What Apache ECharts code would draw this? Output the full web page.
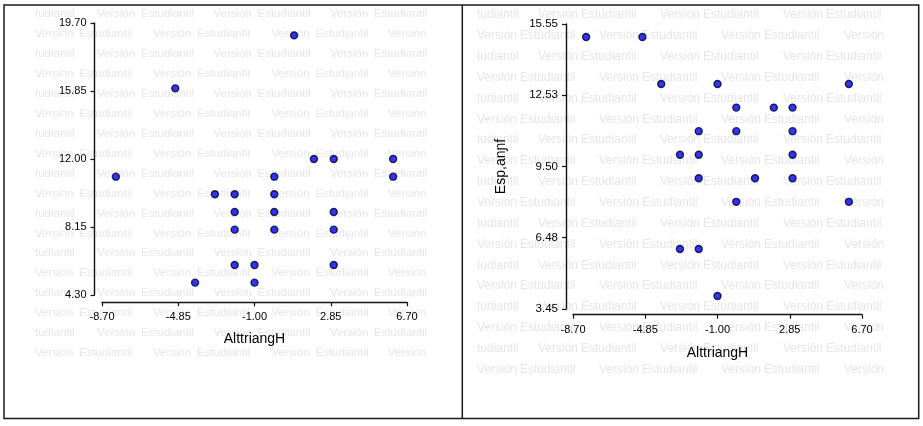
<!DOCTYPE html>
<html><head><meta charset="utf-8">
<script src="https://cdn.jsdelivr.net/npm/echarts@6/dist/echarts.min.js"></script>
<style>html,body{margin:0;padding:0;background:#fff}#c{width:923px;height:426px}</style>
</head><body><div id="c"></div>
<script>
// ---- data ----
const xTicks = [-8.70, -4.85, -1.00, 2.85, 6.70];
const leftYTicks = [4.30, 8.15, 12.00, 15.85, 19.70];
const rightYTicks = [3.45, 6.48, 9.50, 12.53, 15.55];
const leftX = [1, -5, 2, 3, 6, -8, 0, 6, -3, -2, 0, -2, 0, 3, -2, 0, 3, -2, -1, 3, -4, -1];
const leftY = [19, 16, 12, 12, 12, 11, 11, 11, 10, 10, 10, 9, 9, 9, 8, 8, 8, 6, 6, 6, 5, 5];
const rightX = [-8, -5, -4, -1, 6, 0, 2, 3, -2, 0, 3, -3, -2, 3, -2, 1, 3, 0, 6, -3, -2, -1];
const rightY = [15, 15, 13, 13, 13, 12, 12, 12, 11, 11, 11, 10, 10, 10, 9, 9, 9, 8, 8, 6, 6, 4];
const xName = 'AlttriangH';
const rightYName = 'Esp,anɲf';
const wmWords = ['Versión', 'Estudiantil', 'tudiantil'];

// ---- styling ----
const FONT = 'Arial, "Liberation Sans", sans-serif';
const axisColor = '#111';
const fmt = v => Number(v).toFixed(2);

function xAxisOpt(gridIndex, offset, margin, nameGap) {
  return {
    type: 'value', gridIndex, min: xTicks[0], max: xTicks[xTicks.length - 1],
    offset, splitLine: { show: false },
    axisLine: { show: true, onZero: false, lineStyle: { color: axisColor, width: 1.4 } },
    axisTick: { show: true, length: 4, customValues: xTicks, lineStyle: { color: axisColor, width: 1.2 } },
    axisLabel: { customValues: xTicks, formatter: fmt, margin, color: '#000', fontFamily: FONT, fontSize: 11 },
    name: xName, nameLocation: 'middle', nameGap,
    nameTextStyle: { color: '#000', fontFamily: FONT, fontSize: 14 }
  };
}
function yAxisOpt(gridIndex, ticks, offset, name, fs) {
  const o = {
    type: 'value', gridIndex, min: ticks[0], max: ticks[ticks.length - 1],
    offset, splitLine: { show: false },
    axisLine: { show: true, onZero: false, lineStyle: { color: axisColor, width: 1.4 } },
    axisTick: { show: true, length: 4, customValues: ticks, lineStyle: { color: axisColor, width: 1.2 } },
    axisLabel: { customValues: ticks, formatter: fmt, margin: 8, color: '#000', fontFamily: FONT, fontSize: fs }
  };
  if (name) {
    o.name = name; o.nameLocation = 'middle'; o.nameGap = 58; o.nameRotate = 90;
    o.nameTextStyle = { color: '#000', fontFamily: FONT, fontSize: 14 };
  }
  return o;
}

// watermark (decoration)
function watermark(y0, dy, rows, xsA, tailA, xsB, tailB, gap, fs) {
  const els = [];
  const st = (t, x, y) => ({ type: 'text', x, y, z: -10, silent: true,
    style: { text: t, fill: '#e6e6e6', font: fs + 'px ' + FONT, textVerticalAlign: 'middle' } });
  for (let r = 0; r < rows; r++) {
    const y = y0 + r * dy;
    if (r % 2 === 0) {
      els.push(st(wmWords[2], tailA, y));
      xsA.forEach(x => { els.push(st(wmWords[0], x, y)); els.push(st(wmWords[1], x + gap, y)); });
    } else {
      xsB.forEach(x => { els.push(st(wmWords[0], x, y)); els.push(st(wmWords[1], x + gap, y)); });
      els.push(st(wmWords[0], tailB, y));
    }
  }
  return els;
}
const graphics = [].concat(
  watermark(14, 19.94, 18, [97, 213.5, 330], 35, [35, 153, 271.5], 388, 44, 11.5),
  watermark(15, 20.86, 18, [538, 660, 783], 477, [477, 599, 721], 844, 43, 12),
  [
    { type: 'rect', z: 100, silent: true, shape: { x: 4, y: 5, width: 914.7, height: 413.5 },
      style: { fill: null, stroke: '#1a1a1a', lineWidth: 1.5 } },
    { type: 'line', z: 100, silent: true, shape: { x1: 462.3, y1: 5, x2: 462.3, y2: 418.5 },
      style: { stroke: '#1a1a1a', lineWidth: 1.5 } }
  ]
);

const markerStyle = { color: '#0000f0', borderColor: '#000020', borderWidth: 1.4 };
const chart = echarts.init(document.getElementById('c'), null, { renderer: 'canvas' });
chart.setOption({
  animation: false,
  backgroundColor: '#fff',
  grid: [
    { left: 102, top: 23, width: 305, height: 272 },
    { left: 573, top: 24, width: 289, height: 285 }
  ],
  xAxis: [xAxisOpt(0, 7.3, 9, 30), xAxisOpt(1, 5.7, 10, 31)],
  yAxis: [yAxisOpt(0, leftYTicks, 7.5, null, 11), yAxisOpt(1, rightYTicks, 7, rightYName, 11.5)],
  graphic: graphics,
  series: [
    { type: 'scatter', xAxisIndex: 0, yAxisIndex: 0, symbol: 'circle', symbolSize: 7,
      itemStyle: markerStyle, data: leftX.map((x, i) => [x, leftY[i]]) },
    { type: 'scatter', xAxisIndex: 1, yAxisIndex: 1, symbol: 'circle', symbolSize: 7,
      itemStyle: markerStyle, data: rightX.map((x, i) => [x, rightY[i]]) }
  ]
});
</script>
</body></html>
